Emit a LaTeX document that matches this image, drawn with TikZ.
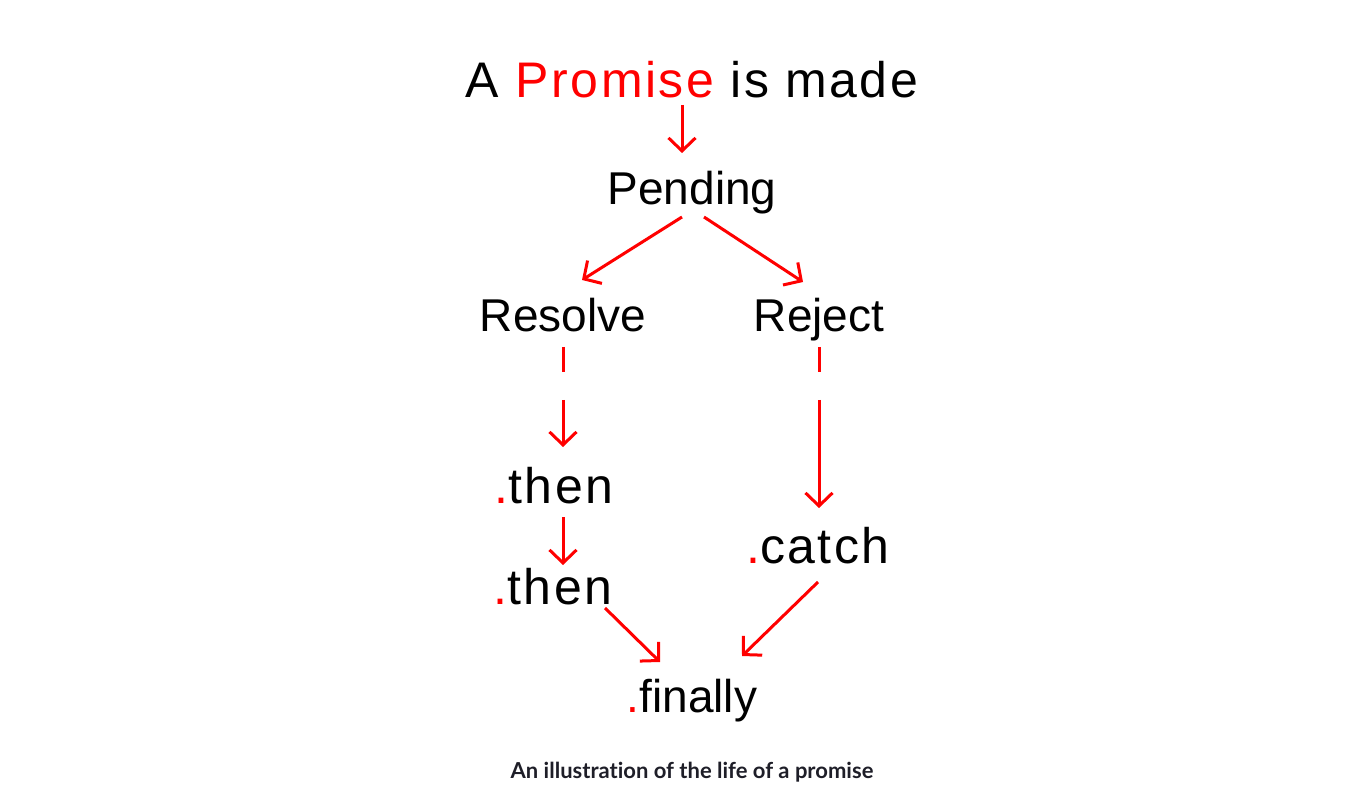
\documentclass[tikz,border=0pt]{standalone}
\usepackage{fontspec}
\setmainfont{Liberation Sans}
\newfontfamily\capfont[Ligatures=NoCommon]{Lato}
\newfontfamily\bigfont[LetterSpace=5]{Liberation Sans}
\usetikzlibrary{arrows.meta}
\definecolor{pred}{HTML}{FF0000}
\definecolor{captxt}{HTML}{1E1E28}
\begin{document}
\begin{tikzpicture}[x=1pt,y=-1pt,
  lbl/.style={inner sep=0pt, anchor=base, font=\fontsize{46}{50}\selectfont},
  big/.style={inner sep=0pt, anchor=base, font=\bigfont\fontsize{50}{56}\selectfont},
  arr/.style={draw=pred, line width=3pt, -{Straight Barb[length=13pt,width=27pt]}},
  dsh/.style={arr, dash pattern=on 25pt off 28pt on 300pt}]
\useasboundingbox (0,0) rectangle (1371,791);
\node[big] (title) at (692,98) {A \textcolor{pred}{Promise} is made};
\node[lbl] (pending) at (692,205) {Pending};
\node[lbl] (resolve) at (563,332) {Resolve};
\node[lbl] (reject) at (819,332) {Reject};
\node[big] (then1) at (554,503) {\textcolor{pred}{.}then};
\node[big] (then2) at (553,604) {\textcolor{pred}{.}then};
\node[big] (catch) at (818,563) {\textcolor{pred}{.}catch};
\node[lbl] (finally) at (692,712) {\textcolor{pred}{.}finally};
\node[inner sep=0pt, anchor=base, text=captxt, font=\capfont\bfseries\fontsize{22}{26}\selectfont] (cap) at (692,778) {An illustration of the life of a promise};
\draw[arr] ([xshift=-10pt,yshift=-7pt]title.base) -- ([xshift=-10pt,yshift=52pt]pending.base);
\draw[arr] ([xshift=-10pt,yshift=-12pt]pending.base) -- ([xshift=19pt,yshift=52pt]resolve.base);
\draw[arr] ([xshift=12pt,yshift=-12pt]pending.base) -- ([xshift=-16pt,yshift=50pt]reject.base);
\draw[dsh] ([yshift=-15pt]resolve.base) -- ([xshift=9pt,yshift=56pt]then1.base);
\draw[dsh] ([yshift=-15pt]reject.base) -- ([xshift=1pt,yshift=55pt]catch.base);
\draw[arr] ([xshift=9pt,yshift=-14pt]then1.base) -- ([xshift=10pt,yshift=39pt]then2.base);
\draw[arr] ([xshift=52pt,yshift=-4pt]then2.base) -- ([xshift=-32pt,yshift=50pt]finally.base);
\draw[arr] ([yshift=-19pt]catch.base) -- ([xshift=50pt,yshift=56pt]finally.base);
\end{tikzpicture}
\end{document}
